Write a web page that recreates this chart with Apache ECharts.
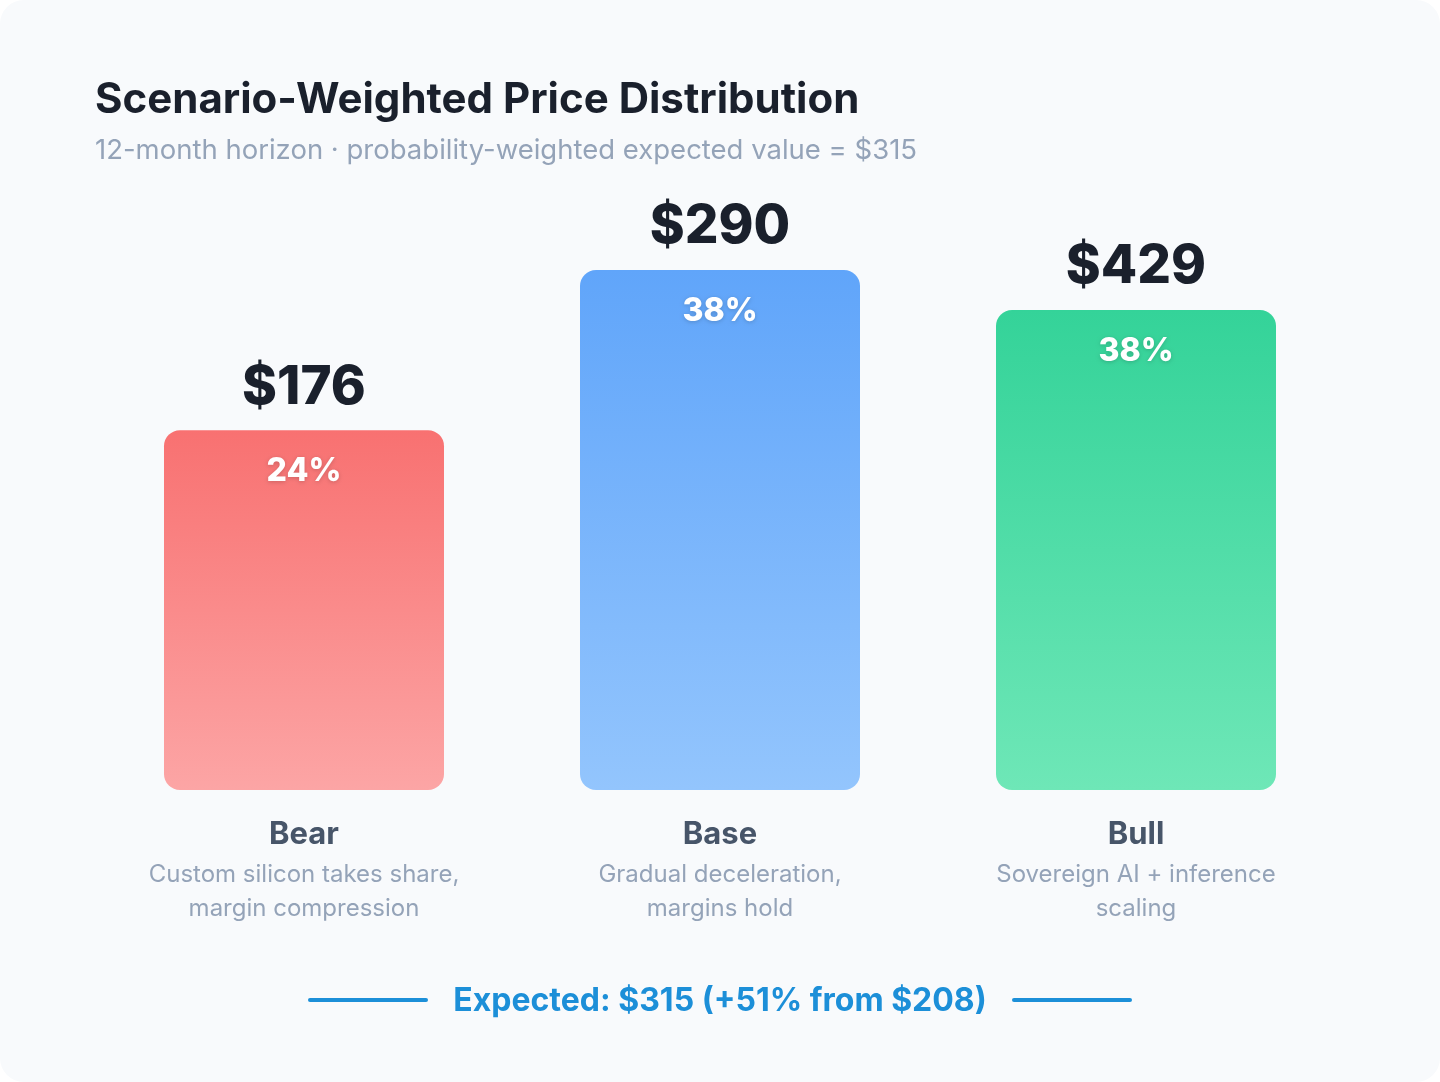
<!DOCTYPE html>
<html>
<head>
<meta charset="utf-8">
<script src="https://cdn.jsdelivr.net/npm/echarts@6/dist/echarts.min.js"></script>
<style>
  html, body { margin: 0; padding: 0; background: #ffffff; }
  #chart { width: 1440px; height: 1082px; background: #f8fafc; border-radius: 24px; overflow: hidden; }
</style>
</head>
<body>
<div id="chart"></div>
<script>
(function () {

    // 场景数据
    var scenarios = ['Bear', 'Base', 'Bull'];
    var descriptions = [
        ['Custom silicon takes share,', 'margin compression'],
        ['Gradual deceleration,', 'margins hold'],
        ['Sovereign AI + inference', 'scaling']
    ];
    var prices = [176, 290, 429];
    var probabilities = [24, 38, 38];
    // 柱子的相对高度（按图中读出，Base = 100）
    var barLevels = [69.2, 100, 92.3];
    var expectedValue = 315;
    var currentPrice = 208;
    var upside = 51;

    var topColors = ['#f87171', '#60a5fa', '#34d399'];
    var bottomColors = ['#fca5a5', '#93c5fd', '#6ee7b7'];

    var font = 'Inter, "Noto Sans", sans-serif';

    var chart = echarts.init(document.getElementById('chart'));

    var barData = barLevels.map(function (v, i) {
        return {
            value: v,
            itemStyle: {
                color: new echarts.graphic.LinearGradient(0, 0, 0, 1, [
                    { offset: 0, color: topColors[i] },
                    { offset: 1, color: bottomColors[i] }
                ])
            }
        };
    });

    chart.setOption({
        animation: false,
        textStyle: { fontFamily: font },
        title: {
            text: 'Scenario-Weighted Price Distribution',
            subtext: '12-month horizon · probability-weighted expected value = $' + expectedValue,
            left: 90,
            top: 74,
            itemGap: 16,
            textStyle: { fontFamily: font, fontSize: 42, fontWeight: 700, color: '#1a202c' },
            subtextStyle: { fontFamily: font, fontSize: 27.5, color: '#94a3b8' }
        },
        grid: { left: 96, right: 96, top: 270, bottom: 292 },
        xAxis: {
            type: 'category',
            data: scenarios,
            axisLine: { show: false },
            axisTick: { show: false },
            axisLabel: {
                margin: 22,
                formatter: function (val, idx) {
                    return '{n|' + val + '}\n{d|' + descriptions[idx][0] + '}\n{d|' + descriptions[idx][1] + '}';
                },
                rich: {
                    n: { fontFamily: font, fontSize: 31, fontWeight: 700, color: '#475569', lineHeight: 46, align: 'center' },
                    d: { fontFamily: font, fontSize: 24, color: '#94a3b8', lineHeight: 34, align: 'center' }
                }
            }
        },
        yAxis: {
            type: 'value',
            min: 0,
            max: 100,
            show: false
        },
        series: [{
            name: 'price',
            type: 'bar',
            barWidth: 280,
            data: barData,
            itemStyle: { borderRadius: 16 },
            label: {
                show: true,
                position: 'top',
                distance: 16,
                formatter: function (p) { return '$' + prices[p.dataIndex]; },
                fontFamily: font,
                fontSize: 53,
                fontWeight: 800,
                color: '#1a202c'
            }
        }, {
            name: 'probability',
            type: 'bar',
            barWidth: 280,
            barGap: '-100%',
            data: barLevels,
            itemStyle: { color: 'transparent' },
            label: {
                show: true,
                position: 'insideTop',
                distance: 25,
                formatter: function (p) { return probabilities[p.dataIndex] + '%'; },
                fontFamily: font,
                fontSize: 32,
                fontWeight: 800,
                color: '#ffffff',
                textShadowColor: 'rgba(0,0,0,0.18)',
                textShadowBlur: 4,
                textShadowOffsetY: 1
            },
            z: 3
        }],
        graphic: [{
            type: 'line',
            shape: { x1: 310, y1: 1000, x2: 426, y2: 1000 },
            style: { stroke: '#1c8fd8', lineWidth: 4, lineCap: 'round' }
        }, {
            type: 'line',
            shape: { x1: 1014, y1: 1000, x2: 1130, y2: 1000 },
            style: { stroke: '#1c8fd8', lineWidth: 4, lineCap: 'round' }
        }, {
            type: 'text',
            x: 720,
            y: 1001,
            style: {
                text: 'Expected: $' + expectedValue + ' (+' + upside + '% from $' + currentPrice + ')',
                fontFamily: font,
                fontSize: 32,
                fontWeight: 700,
                fill: '#1c8fd8',
                align: 'center',
                verticalAlign: 'middle'
            }
        }]
    });
})();
</script>
</body>
</html>
